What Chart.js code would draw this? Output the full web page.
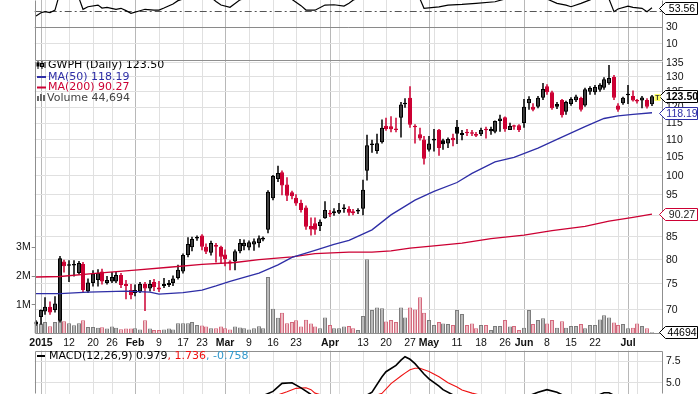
<!DOCTYPE html>
<html>
<head>
<meta charset="utf-8">
<script src="https://cdn.jsdelivr.net/npm/chart.js@4.4.1/dist/chart.umd.min.js"></script>
<style>
  html, body { margin: 0; padding: 0; background: #fff; overflow: hidden; }
  #wrap { position: relative; width: 700px; height: 394px; }
  #wrap canvas { position: absolute; left: 0; top: 0; }
</style>
</head>
<body>
<div id="wrap">
  <canvas id="main" width="700" height="394"></canvas>
  <canvas id="rsi" width="700" height="394"></canvas>
  <canvas id="macd" width="700" height="394"></canvas>
</div>
<script>
// ---- data (day index: 0 = 2 Jan 2015, first candle = 31 Dec 2014) ----
const symbol = 'GWPH';
const firstDay = -1;

const opens = [
  67.4, 68.7, 69.7, 70.6, 70.0, 68.0, 79.6, 78.9, 78.9, 77.2,
  79.1, 73.5, 75.2, 75.8, 77.5, 75.2, 75.5, 75.5, 76.8, 75.0,
  73.8, 73.2, 73.5, 75.0, 74.1, 75.4, 73.9, 74.6, 74.8, 75.2,
  76.2, 77.5, 81.0, 82.7, 84.9, 85.3, 82.8, 81.5, 83.2, 82.8,
  81.1, 79.6, 79.6, 81.8, 82.9, 82.6, 83.3, 83.6, 84.4, 86.6,
  94.2, 99.1, 100.9, 97.7, 95.7, 94.3, 93.0, 91.9, 87.5, 88.1,
  87.5, 89.3, 90.6, 90.5, 90.6, 91.9, 91.5, 91.0, 91.2, 91.6,
  101.3, 108.5, 106.8, 109.3, 114.2, 114.0, 113.3, 116.6, 121.2, 123.0,
  114.0, 111.6, 110.1, 107.1, 109.8, 113.0, 109.9, 108.9, 110.6, 113.9,
  111.4, 112.3, 112.2, 111.2, 111.6, 113.1, 112.5, 112.4, 115.6, 116.8,
  112.9, 114.2, 114.3, 115.0, 121.2, 120.1, 120.1, 123.0, 126.8, 124.8,
  121.0, 122.3, 118.5, 121.0, 122.2, 122.9, 120.5, 125.0, 124.8, 125.6,
  126.3, 127.8, 130.0, 120.5, 121.2, 124.1, 123.6, 121.8, 122.1, 122.3,
  120.9
];
const highs = [
  68.1, 70.1, 72.4, 71.6, 72.6, 80.8, 80.0, 79.9, 79.9, 79.7,
  79.5, 76.1, 77.8, 78.0, 78.1, 76.6, 77.4, 77.4, 77.2, 75.8,
  75.0, 74.9, 75.4, 75.4, 75.8, 76.0, 75.6, 76.2, 75.8, 76.7,
  78.9, 81.3, 84.9, 85.0, 85.3, 85.6, 83.5, 84.1, 83.6, 83.0,
  82.2, 79.9, 82.2, 84.5, 84.4, 84.2, 84.6, 85.3, 85.1, 96.2,
  100.2, 102.7, 101.4, 99.6, 96.1, 95.2, 93.8, 92.4, 89.5, 89.5,
  89.0, 93.4, 91.3, 91.7, 93.0, 92.7, 92.2, 91.5, 91.7, 98.9,
  111.5, 110.0, 111.8, 116.1, 116.6, 117.1, 116.6, 121.6, 122.8, 126.8,
  114.6, 113.6, 111.1, 111.1, 113.2, 113.2, 110.3, 110.7, 111.8, 115.9,
  112.9, 113.2, 112.9, 112.3, 113.6, 113.9, 113.9, 115.8, 117.6, 117.0,
  115.1, 114.5, 114.6, 122.6, 123.5, 121.2, 123.6, 127.9, 127.5, 125.3,
  121.6, 122.6, 122.0, 123.2, 124.0, 123.3, 126.3, 126.8, 127.2, 127.8,
  129.9, 134.2, 130.7, 121.2, 123.3, 127.2, 125.4, 122.6, 123.6, 122.8,
  123.9
];
const lows = [
  67.1, 67.3, 69.1, 69.1, 69.5, 67.7, 77.3, 75.4, 76.5, 76.9,
  73.3, 73.2, 74.5, 74.5, 74.9, 74.9, 75.2, 75.2, 74.2, 72.0,
  72.0, 72.6, 73.2, 69.8, 73.5, 73.6, 73.4, 74.2, 74.4, 74.6,
  75.9, 77.1, 80.5, 81.8, 84.1, 82.0, 81.2, 80.9, 79.4, 79.3,
  78.6, 77.8, 77.8, 81.4, 82.0, 82.0, 81.9, 82.6, 84.0, 85.8,
  93.7, 98.3, 94.9, 93.5, 93.9, 92.3, 90.7, 86.6, 85.3, 85.5,
  86.3, 89.2, 89.6, 89.9, 90.3, 90.6, 89.9, 90.0, 90.3, 90.0,
  98.7, 106.3, 106.0, 108.9, 112.7, 112.2, 112.2, 110.7, 119.8, 113.6,
  108.9, 109.8, 103.0, 106.6, 106.6, 105.4, 107.1, 107.6, 108.1, 108.8,
  109.9, 111.1, 111.1, 110.8, 111.1, 110.4, 111.5, 111.9, 112.4, 112.4,
  112.9, 113.0, 112.3, 113.6, 119.1, 118.7, 119.6, 122.3, 124.0, 119.1,
  119.4, 116.7, 117.6, 120.4, 121.6, 118.6, 120.1, 124.0, 124.0, 125.0,
  125.6, 127.3, 122.3, 118.5, 120.7, 121.0, 121.8, 121.1, 119.6, 119.5,
  120.3
];
const closes = [
  67.9, 70.0, 70.6, 69.5, 71.2, 80.3, 78.6, 78.7, 78.75, 79.3,
  73.8, 75.3, 77.1, 77.2, 75.5, 75.8, 76.4, 76.8, 74.8, 74.6,
  72.8, 73.8, 75.0, 74.1, 75.0, 74.4, 74.3, 75.0, 75.2, 76.1,
  77.9, 81.0, 83.4, 84.5, 84.6, 82.8, 81.7, 83.6, 82.8, 80.6,
  80.1, 79.2, 81.8, 83.6, 83.7, 83.8, 84.0, 84.7, 84.8, 95.8,
  99.9, 100.7, 97.4, 94.8, 94.7, 92.9, 91.3, 87.3, 86.7, 86.6,
  88.5, 91.3, 90.2, 91.0, 91.3, 91.5, 90.6, 90.5, 90.9, 96.3,
  108.4, 108.7, 109.0, 113.6, 113.2, 113.1, 112.9, 120.8, 120.9, 114.5,
  113.7, 110.4, 104.6, 108.9, 110.3, 107.6, 108.7, 110.2, 109.9, 111.8,
  112.0, 111.9, 111.8, 111.7, 112.9, 112.8, 113.2, 115.6, 116.4, 113.1,
  114.1, 113.9, 112.9, 120.1, 122.6, 119.1, 123.0, 125.9, 124.8, 119.6,
  120.1, 117.4, 121.6, 122.6, 123.4, 119.1, 125.8, 126.2, 126.6, 127.3,
  129.2, 129.6, 123.0, 119.1, 123.0, 123.8, 122.1, 122.0, 123.1, 120.1,
  123.5
];
// volume in millions of shares
const volumes = [
  0.40, 0.35, 0.40, 0.25, 0.40, 2.60, 0.43, 0.36, 0.29, 0.36,
  0.46, 0.23, 0.23, 0.20, 0.22, 0.17, 0.24, 0.20, 0.15, 0.17,
  0.17, 0.18, 0.14, 0.46, 0.17, 0.12, 0.12, 0.14, 0.17, 0.14,
  0.36, 0.36, 0.36, 0.40, 0.30, 0.28, 0.24, 0.18, 0.18, 0.24,
  0.18, 0.14, 0.24, 0.21, 0.18, 0.14, 0.18, 0.25, 0.18, 1.97,
  0.86, 0.55, 0.72, 0.36, 0.40, 0.46, 0.24, 0.48, 0.35, 0.24,
  0.18, 0.56, 0.30, 0.18, 0.18, 0.24, 0.26, 0.18, 0.12, 0.61,
  2.59, 0.82, 0.91, 0.88, 0.42, 0.47, 0.40, 0.91, 0.56, 0.91,
  0.84, 1.26, 0.72, 0.47, 0.30, 0.40, 0.35, 0.33, 0.30, 0.82,
  0.68, 0.30, 0.35, 0.18, 0.30, 0.30, 0.12, 0.26, 0.26, 0.47,
  0.24, 0.26, 0.12, 0.20, 0.82, 0.33, 0.47, 0.53, 0.35, 0.47,
  0.20, 0.43, 0.20, 0.26, 0.26, 0.33, 0.18, 0.30, 0.30, 0.49,
  0.64, 0.56, 0.38, 0.30, 0.33, 0.18, 0.20, 0.35, 0.26, 0.18,
  0.044694
];

const ma50Days = [-1, 4, 10, 18, 23, 25, 30, 34, 37, 40, 43, 46, 50, 53, 55, 58, 62, 65, 70, 74, 79, 83, 88, 91, 96, 100, 105, 109, 115, 119, 122, 125, 129];
const ma50Vals = [73.1, 73.1, 73.4, 73.6, 73.4, 73.0, 73.3, 73.8, 74.6, 75.5, 76.3, 77.2, 78.9, 80.5, 81.1, 82.0, 83.3, 84.2, 86.6, 90.1, 93.7, 95.9, 98.2, 100.6, 103.7, 105.0, 107.6, 110.1, 113.9, 116.4, 117.2, 117.7, 118.19];
const ma200Days = [-1, 4, 12, 20, 27, 34, 41, 46, 53, 58, 65, 70, 74, 78, 83, 89, 95, 102, 108, 115, 120, 125, 129];
const ma200Vals = [76.4, 76.5, 77.2, 77.8, 78.4, 79.0, 79.4, 80.0, 80.6, 81.3, 81.6, 81.6, 81.9, 82.5, 83.0, 83.6, 84.6, 85.4, 86.4, 87.4, 88.6, 89.5, 90.27];

const rsiDays = [-1, 0, 1, 2, 3, 4, 6, 8, 9, 10, 12, 13, 14, 16, 17, 18, 19, 21, 22, 24, 25, 26, 28, 29, 31, 33, 35, 36, 37, 38, 40, 42, 44, 46, 48, 50, 52, 53, 55, 56, 58, 60, 62, 64, 65, 66, 68, 72, 76, 79, 80, 81, 84, 86, 89, 92, 96, 98, 101, 104, 107, 109, 111, 112, 114, 116, 118, 120, 121, 122, 124, 125, 127, 128, 129];
const rsiVals = [43.5, 47.5, 48.7, 47.5, 50.7, 72, 70, 65, 51.6, 54.7, 56.7, 53.1, 54, 51.6, 52.8, 50, 46.7, 49.9, 51.6, 50.7, 50.7, 53.1, 58, 62, 66, 70, 68, 66, 61, 56.7, 54, 63, 66, 64, 75, 76, 70, 63.5, 56, 50.7, 50.5, 56.7, 57.1, 55.5, 58.8, 62.5, 68, 74, 72, 68, 64, 52.8, 54.5, 56.7, 57.5, 58.8, 60.7, 64, 68, 70, 64, 58.8, 56.7, 54.7, 58.8, 63, 68, 64, 48.7, 52, 55.5, 54, 52.8, 48.7, 53.56];
const rsiMid = 50;

const macdDays = [45, 47, 49, 51, 53, 55, 57, 60, 64, 67, 70, 72, 73, 75, 76, 77, 78, 79, 81, 82, 84, 85, 87, 90, 95, 100, 103, 105, 107, 109, 111, 114, 117, 119, 120, 122, 125, 129];
const macdVals = [3.0, 3.5, 4.0, 4.93, 5.0, 4.4, 3.65, 2.9, 2.5, 3.0, 3.9, 5.69, 6.27, 7.0, 7.6, 8.0, 7.7, 7.2, 6.0, 5.45, 4.6, 4.2, 3.6, 3.0, 2.7, 3.0, 3.5, 3.9, 4.2, 3.9, 3.4, 3.2, 3.4, 3.85, 3.85, 3.3, 2.5, 0.979];
const signalDays = [48, 50, 52, 54, 56, 57, 58, 61, 66, 70, 72, 74, 76, 77, 78, 79, 80, 82, 84, 86, 88, 89, 91, 93, 97, 105, 115, 120, 129];
const signalVals = [3.3, 3.6, 3.96, 4.35, 4.42, 4.2, 3.8, 3.3, 3.0, 3.4, 3.78, 4.9, 5.77, 6.1, 6.5, 6.66, 6.66, 6.3, 5.69, 5.0, 4.5, 4.16, 3.8, 3.55, 3.2, 3.4, 3.5, 3.3, 1.736];
const macdLatest = [0.979, 1.736, -0.758];

const tickDays = [0, 1, 6, 11, 15, 20, 25, 30, 34, 39, 44, 49, 54, 59, 61, 63, 68, 73, 78, 82, 83, 88, 93, 98, 102, 107, 112, 117, 122, 124, 126];
const tickLabels = ['2015', '', '12', '20', '26', 'Feb', '9', '17', '23', 'Mar', '9', '16', '23', '', 'Apr', '', '13', '20', '27', 'May', '', '11', '18', '26', 'Jun', '8', '15', '22', '', 'Jul', ''];
const monthDays = [0, 20, 39, 61, 82, 102, 124];
const priceTicks = [70, 75, 80, 85, 90, 95, 100, 105, 110, 115, 120, 125, 130, 135];
const volumeTicks = [1, 2, 3];
const rsiTicks = [10, 30];
const macdTicks = [5, 7.5];

// ---- styling ----
const TICK_FONT = "'Liberation Sans', Arial, sans-serif";
const LEGEND_FONT = "'DejaVu Sans', Verdana, sans-serif";
const UP = '#000000';
const DOWN = '#cc0033';
const MA50_COLOR = '#2e2ea6';
const MA200_COLOR = '#cc0033';
const GRID = '#e0e0e0';
const GRID_MONTH = '#b8b8b8';
const X_MIN = -1.27, X_MAX = 131.4;

Chart.defaults.font.family = TICK_FONT;

const candleX = opens.map((_, k) => k + firstDay);
const isUp = closes.map((c, k) => c >= (k ? closes[k - 1] : opens[k]));
const isHollow = closes.map((c, k) => c >= opens[k]);
const candleColor = isUp.map(u => u ? UP : DOWN);
const last = closes.length - 1;

const pts = (xs, ys) => xs.map((x, k) => ({ x, y: ys[k] }));

function xAxis(showLabels, height) {
  return {
    type: 'linear', min: X_MIN, max: X_MAX, offset: false, alignToPixels: true,
    grid: {
      offset: false, drawTicks: false,
      color: ctx => (ctx.tick && monthDays.includes(ctx.tick.value)) ? GRID_MONTH : GRID
    },
    border: { display: false },
    afterBuildTicks: s => { s.ticks = tickDays.map(v => ({ value: v })); },
    afterFit: s => { s.height = height; },
    ticks: {
      display: showLabels, autoSkip: false, maxRotation: 0, padding: 3, color: '#111',
      font: ctx => ({ family: TICK_FONT, size: 10.5,
        weight: (ctx.tick && monthDays.includes(ctx.tick.value)) ? 'bold' : 'normal' }),
      callback: v => { const k = tickDays.indexOf(v); return k < 0 ? '' : tickLabels[k]; }
    }
  };
}

function fixWidth(w) {
  return s => { s.width = w; s.paddingTop = 0; s.paddingBottom = 0; };
}

function rightAxis(extra) {
  return Object.assign({
    position: 'right',
    afterFit: fixWidth(37),
    grid: { color: GRID, drawTicks: false },
    border: { display: false },
    ticks: { autoSkip: false, padding: 3, color: '#111', font: { family: TICK_FONT, size: 10.5 } }
  }, extra);
}

function framePlugin(sides) {
  return {
    id: 'frame',
    afterDatasetsDraw(chart) {
      const c = chart.ctx;
      const l = Math.round(chart.chartArea.left) + 0.5, r = Math.round(chart.chartArea.right) - 0.5;
      const t = Math.round(chart.chartArea.top) + 0.5, b = Math.round(chart.chartArea.bottom) - 0.5;
      c.save();
      c.strokeStyle = '#8f8f8f'; c.lineWidth = 1;
      c.beginPath();
      if (sides.includes('l')) { c.moveTo(l, t); c.lineTo(l, b); }
      if (sides.includes('r')) { c.moveTo(r, t); c.lineTo(r, b); }
      if (sides.includes('t')) { c.moveTo(l, t); c.lineTo(r, t); }
      if (sides.includes('b')) { c.moveTo(l, b); c.lineTo(r, b); }
      c.stroke();
      c.restore();
    }
  };
}

function tagPlugin(tags) {
  return {
    id: 'tags',
    afterDraw(chart) {
      const c = chart.ctx;
      const r = Math.round(chart.chartArea.right);
      tags.forEach(t => {
        const y = Math.round(chart.scales[t.axis].getPixelForValue(t.value)) + 0.5;
        c.save();
        c.beginPath();
        c.moveTo(r - 3.5, y);
        c.lineTo(r + 2.5, y - 6);
        c.lineTo(r + 34.5, y - 6);
        c.lineTo(r + 34.5, y + 6);
        c.lineTo(r + 2.5, y + 6);
        c.closePath();
        c.fillStyle = '#fff'; c.fill();
        c.strokeStyle = t.border; c.lineWidth = 1; c.stroke();
        c.font = (t.bold ? 'bold ' : '') + '10.5px ' + TICK_FONT;
        c.fillStyle = t.color; c.textAlign = 'center'; c.textBaseline = 'middle';
        c.fillText(t.text, r + 19, y + 0.5);
        c.restore();
      });
    }
  };
}

const priceLegend = {
  id: 'priceLegend',
  afterDraw(chart) {
    const c = chart.ctx;
    c.save();
    c.font = '11px ' + LEGEND_FONT;
    c.textBaseline = 'middle';
    // candle icon
    c.fillStyle = '#000';
    c.fillRect(37.5, 61, 1, 8); c.fillRect(36.5, 62.5, 3, 4);
    c.fillRect(41.5, 61, 1, 8); c.strokeStyle = '#000'; c.lineWidth = 1; c.strokeRect(40.5, 63.5, 3, 3);
    c.fillRect(44.5, 62, 1, 6);
    c.fillText(`${symbol} (Daily) ${closes[last].toFixed(2)}`, 48, 65.5);
    c.fillStyle = MA50_COLOR; c.fillRect(37, 76, 9, 2);
    c.fillText(`MA(50) ${ma50Vals[ma50Vals.length - 1].toFixed(2)}`, 48, 77);
    c.fillStyle = MA200_COLOR; c.fillRect(37, 86.5, 9, 2);
    c.fillText(`MA(200) ${ma200Vals[ma200Vals.length - 1].toFixed(2)}`, 48, 87.5);
    c.fillStyle = '#666';
    c.fillRect(37, 96, 2, 5); c.fillRect(40, 94, 2, 7); c.fillRect(43, 95, 2, 6);
    c.fillStyle = '#444';
    c.fillText(`Volume ${Math.round(volumes[last] * 1e6).toLocaleString('en-US')}`, 47, 98);
    // "today" marker after the last candle
    const xs = chart.scales.x.getPixelForValue(candleX[last]) + 2;
    c.fillStyle = '#ffff66'; c.fillRect(Math.round(xs) + 0.5, 94, 6, 7);
    c.fillStyle = '#333'; c.font = 'bold 7px ' + TICK_FONT; c.textAlign = 'center';
    c.fillText('T', Math.round(xs) + 3.5, 97.8);
    c.restore();
  }
};

// ---- main price + volume chart ----
new Chart(document.getElementById('main'), {
  type: 'bar',
  data: {
    datasets: [
      { type: 'line', label: 'MA(50)', data: pts(ma50Days, ma50Vals), yAxisID: 'y',
        borderColor: MA50_COLOR, borderWidth: 1.3, pointRadius: 0, order: 1 },
      { type: 'line', label: 'MA(200)', data: pts(ma200Days, ma200Vals), yAxisID: 'y',
        borderColor: MA200_COLOR, borderWidth: 1.3, pointRadius: 0, order: 2 },
      { label: 'body', data: candleX.map((x, k) => ({ x, y: [opens[k], closes[k]] })), yAxisID: 'y',
        backgroundColor: candleX.map((_, k) => isHollow[k] ? 'rgba(255,255,255,0)' : candleColor[k]),
        borderColor: candleColor, borderWidth: 1, borderSkipped: false, inflateAmount: 0,
        barThickness: 4, minBarLength: 1.5, grouped: false, order: 3 },
      { label: 'wick', data: candleX.map((x, k) => ({ x, y: [lows[k], highs[k]] })), yAxisID: 'y',
        backgroundColor: candleColor, barThickness: 1.5, inflateAmount: 0, grouped: false, order: 4 },
      { label: 'Volume', data: pts(candleX, volumes), yAxisID: 'yv',
        backgroundColor: isUp.map(u => u ? '#bababa' : '#ecbcc3'),
        borderColor: isUp.map(u => u ? '#7d7d7d' : '#d46a7e'),
        borderWidth: 1, barThickness: 4, inflateAmount: 0, grouped: false, order: 5 }
    ]
  },
  options: {
    responsive: false, animation: false, events: [],
    layout: { padding: { top: 60.5, bottom: 42, left: 0, right: 0 } },
    plugins: { legend: { display: false }, tooltip: { enabled: false } },
    scales: {
      x: xAxis(true, 18.5),
      y: rightAxis({
        type: 'logarithmic', min: 65.75, max: 135.79, bounds: 'data',
        afterBuildTicks: s => { s.ticks = priceTicks.map(v => ({ value: v })); },
        ticks: { autoSkip: false, padding: 3, color: '#111', font: { family: TICK_FONT, size: 10.5 }, callback: v => String(v) }
      }),
      yv: {
        type: 'linear', position: 'left', min: 0, max: 9.51,
        afterBuildTicks: s => { s.ticks = volumeTicks.map(v => ({ value: v })); },
        afterFit: fixWidth(34.7),
        grid: { drawOnChartArea: false, drawTicks: true, tickLength: 3, tickColor: '#888' },
        border: { display: false },
        ticks: { autoSkip: false, padding: 1, color: '#111', font: { family: TICK_FONT, size: 10.5 }, callback: v => v + 'M' }
      }
    }
  },
  plugins: [
    framePlugin('lrb'),
    tagPlugin([
      { axis: 'y', value: ma200Vals[ma200Vals.length - 1], text: ma200Vals[ma200Vals.length - 1].toFixed(2), border: MA200_COLOR, color: '#222' },
      { axis: 'y', value: ma50Vals[ma50Vals.length - 1], text: ma50Vals[ma50Vals.length - 1].toFixed(2), border: MA50_COLOR, color: MA50_COLOR },
      { axis: 'y', value: closes[last], text: closes[last].toFixed(2), border: '#000', color: '#000', bold: true },
      { axis: 'yv', value: volumes[last], text: String(Math.round(volumes[last] * 1e6)), border: '#000', color: '#000' }
    ]),
    priceLegend
  ]
});

// ---- RSI panel (top, mostly cut off) ----
const rsiMidLine = {
  id: 'rsiMid',
  beforeDatasetsDraw(chart) {
    const c = chart.ctx;
    const y = Math.round(chart.scales.y.getPixelForValue(rsiMid)) + 0.5;
    c.save();
    c.strokeStyle = '#555'; c.lineWidth = 1; c.setLineDash([7, 3, 2, 3]);
    c.beginPath(); c.moveTo(chart.chartArea.left, y); c.lineTo(chart.chartArea.right, y); c.stroke();
    c.restore();
  }
};

new Chart(document.getElementById('rsi'), {
  type: 'line',
  data: { datasets: [{ data: pts(rsiDays, rsiVals), borderColor: '#000', borderWidth: 1.2, pointRadius: 0 }] },
  options: {
    responsive: false, animation: false, events: [],
    layout: { padding: { top: 0, bottom: 333.5, left: 34.7, right: 0 } },
    plugins: { legend: { display: false }, tooltip: { enabled: false } },
    scales: {
      x: xAxis(false, 0),
      y: rightAxis({
        type: 'linear', min: -10.1, max: 62.8,
        afterBuildTicks: s => { s.ticks = rsiTicks.map(v => ({ value: v })); },
        grid: { drawTicks: false, color: ctx => (ctx.tick && ctx.tick.value === 30) ? '#8a8a8a' : GRID }
      })
    }
  },
  plugins: [
    framePlugin('lrb'), rsiMidLine,
    tagPlugin([{ axis: 'y', value: rsiVals[rsiVals.length - 1], text: rsiVals[rsiVals.length - 1].toFixed(2), border: '#000', color: '#000' }])
  ]
});

// ---- MACD panel (bottom, mostly cut off) ----
const macdLegend = {
  id: 'macdLegend',
  afterDraw(chart) {
    const c = chart.ctx;
    c.save();
    c.font = '11px ' + LEGEND_FONT;
    c.textBaseline = 'middle';
    c.fillStyle = '#000'; c.fillRect(37, 355, 8, 2);
    let x = 49;
    const parts = [
      ['MACD(12,26,9) ' + macdLatest[0].toFixed(3), '#000'],
      [', ' + macdLatest[1].toFixed(3), '#ee1111'],
      [', ' + macdLatest[2].toFixed(3), '#3399cc']
    ];
    parts.forEach(([txt, col]) => { c.fillStyle = col; c.fillText(txt, x, 356.5); x += c.measureText(txt).width; });
    c.restore();
  }
};

new Chart(document.getElementById('macd'), {
  type: 'line',
  data: {
    datasets: [
      { data: pts(macdDays, macdVals), borderColor: '#000', borderWidth: 1.6, pointRadius: 0 },
      { data: pts(signalDays, signalVals), borderColor: '#ee1111', borderWidth: 1.1, pointRadius: 0 }
    ]
  },
  options: {
    responsive: false, animation: false, events: [],
    layout: { padding: { top: 350.7, bottom: 0, left: 34.7, right: 0 } },
    plugins: { legend: { display: false }, tooltip: { enabled: false } },
    scales: {
      x: xAxis(false, 0),
      y: rightAxis({
        type: 'linear', min: 3.70, max: 8.69,
        afterBuildTicks: s => { s.ticks = macdTicks.map(v => ({ value: v })); },
        ticks: { autoSkip: false, padding: 3, color: '#111', font: { family: TICK_FONT, size: 10.5 }, callback: v => v.toFixed(1) }
      })
    }
  },
  plugins: [framePlugin('lrt'), macdLegend]
});
</script>
</body>
</html>
